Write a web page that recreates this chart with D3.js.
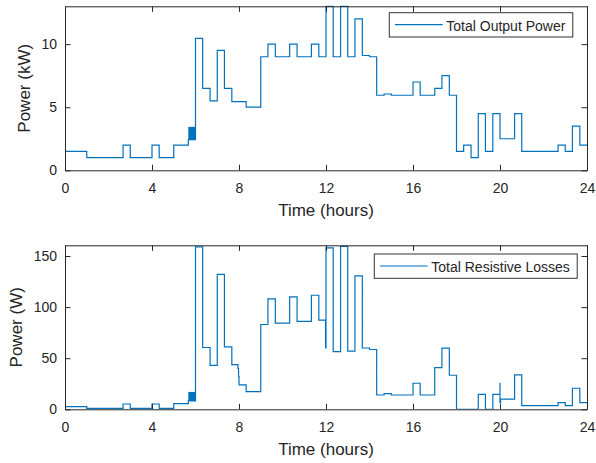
<!DOCTYPE html>
<html>
<head>
<meta charset="utf-8">
<script src="https://cdn.jsdelivr.net/npm/d3@7"></script>
<style>
  body { margin: 0; background: #fff; }
  svg { display: block; font-family: "Liberation Sans", Arial, Helvetica, sans-serif; }
</style>
</head>
<body>
<svg id="chart" width="596" height="463"></svg>
<script>
// Hourly profile of total output power (kW), as [time in hours, value] steps
const outputPower = [
  [0, 0], [0, 1.5], [1.0, 1.0], [2.67, 2.0], [3.0, 1.0], [4.0, 2.0], [4.33, 1.0],
  [5.0, 2.0], [5.67, 2.43], [6.0, 10.45], [6.33, 6.5], [6.67, 5.5], [7.0, 9.5],
  [7.33, 6.5], [7.67, 5.45], [8.33, 5.0], [9.0, 9.0], [9.33, 10.0], [9.67, 9.0],
  [10.33, 10.0], [10.67, 9.0], [11.33, 10.0], [11.67, 9.0], [12.0, 13.0], [12.33, 9.0],
  [12.67, 13.0], [13.0, 9.0], [13.33, 12.0], [13.67, 9.1], [14.0, 9.0], [14.33, 5.95],
  [14.67, 6.05], [15.0, 5.95], [16.0, 7.0], [16.33, 5.95], [17.0, 6.5], [17.33, 7.5],
  [17.67, 5.95], [18.0, 1.5], [18.33, 2.0], [18.67, 1.0], [19.0, 4.5], [19.33, 1.5],
  [19.67, 4.5], [20.0, 2.5], [20.67, 4.5], [21.0, 1.5], [22.67, 2.0], [23.0, 1.5],
  [23.33, 3.5], [23.67, 2.0], [24.0, 2.0]
];
// Fast switching interval of the output power: [start, end, low, high]
const outputBand = [5.67, 6.0, 2.43, 3.44];

// Total resistive losses (W), as [time in hours, value] steps
const resistiveLosses = [
  [0, 0], [0, 2.6], [1.0, 1.0], [2.67, 5.2], [3.0, 1.0], [4.0, 5.2], [4.33, 1.0],
  [5.0, 5.5], [5.67, 8.2], [6.0, 159], [6.33, 60.5], [6.67, 43], [7.0, 132],
  [7.33, 61], [7.67, 43.8], [7.95, 40], [7.98, 32], [8.0, 24], [8.33, 17.3],
  [9.0, 83], [9.33, 108], [9.67, 84.3], [10.33, 110], [10.67, 86], [11.33, 111.6],
  [11.67, 87.2], [11.98, 60], [12.0, 158], [12.33, 56.5], [12.67, 159.4], [13.0, 57],
  [13.33, 130.5], [13.67, 60], [14.0, 58.5], [14.33, 14], [14.67, 15.4], [15.0, 14],
  [16.0, 25.5], [16.33, 14], [17.0, 40.8], [17.33, 59.8], [17.67, 33.3], [18.0, 0],
  [19.0, 14.7], [19.33, 0], [19.67, 14.7], [20.0, 26], [20.0, 6.5], [20.03, 10],
  [20.67, 33.6], [21.0, 3.6], [22.67, 6.5], [23.0, 3.6], [23.33, 20.6], [23.67, 6.5],
  [24.0, 6.5]
];
// Fast switching interval of the losses: [start, end, low, high]
const lossBand = [5.67, 6.0, 8.2, 17.0];

const timeTicks = [0, 4, 8, 12, 16, 20, 24];
const powerTicks = [0, 5, 10];
const lossTicks = [0, 50, 100, 150];

const LINE = "#0072BD";
const AXIS = "#262626";

const svg = d3.select("#chart");

function panel(cfg) {
  const { top, bottom, left, right, data, band, yMax, yTicks, yLabel, yLabelX, legend, legendX, id } = cfg;
  const x = d3.scaleLinear().domain([0, 24]).range([left, right]);
  const y = d3.scaleLinear().domain([0, yMax]).range([bottom, top]);

  svg.append("clipPath").attr("id", id)
    .append("rect")
    .attr("x", left).attr("y", top - 1)
    .attr("width", right - left).attr("height", bottom - top + 1);

  const g = svg.append("g");

  // rapid switching shows as a solid block
  g.append("rect")
    .attr("clip-path", `url(#${id})`)
    .attr("x", x(band[0])).attr("width", x(band[1]) - x(band[0]))
    .attr("y", y(band[3])).attr("height", y(band[2]) - y(band[3]))
    .attr("fill", LINE);

  const line = d3.line()
    .x(d => x(d[0])).y(d => y(d[1]))
    .curve(d3.curveStepAfter);

  g.append("path")
    .datum(data)
    .attr("clip-path", `url(#${id})`)
    .attr("d", line)
    .attr("fill", "none")
    .attr("stroke", LINE)
    .attr("stroke-width", 1.2)
    .attr("stroke-linejoin", "miter");

  const tick = 5.5;
  const axes = svg.append("g").attr("color", AXIS);

  axes.append("g").attr("transform", `translate(0,${bottom})`)
    .call(d3.axisBottom(x).tickValues(timeTicks).tickSizeInner(-tick).tickSizeOuter(0).tickPadding(12.5));
  axes.append("g").attr("transform", `translate(0,${top})`)
    .call(d3.axisTop(x).tickValues(timeTicks).tickSizeInner(-tick).tickSizeOuter(0).tickFormat(""));
  axes.append("g").attr("transform", `translate(${left},0)`)
    .call(d3.axisLeft(y).tickValues(yTicks).tickSizeInner(-tick).tickSizeOuter(0).tickPadding(8));
  axes.append("g").attr("transform", `translate(${right},0)`)
    .call(d3.axisRight(y).tickValues(yTicks).tickSizeInner(-tick).tickSizeOuter(0).tickFormat(""));

  axes.selectAll("text").attr("font-size", 14).attr("fill", AXIS)
    .attr("font-family", '"Liberation Sans", Arial, sans-serif');
  axes.selectAll("path.domain, line").attr("stroke", AXIS).attr("stroke-width", 1);

  // axis titles
  svg.append("text")
    .attr("x", (left + right) / 2).attr("y", bottom + 45.7)
    .attr("text-anchor", "middle").attr("font-size", 17).attr("fill", AXIS)
    .text("Time (hours)");
  svg.append("text")
    .attr("transform", `translate(${yLabelX},${(top + bottom) / 2}) rotate(-90)`)
    .attr("text-anchor", "middle").attr("font-size", 17).attr("fill", AXIS)
    .text(yLabel);

  // legend
  const lg = svg.append("g");
  const ly0 = top + cfg.legendDy;
  const box = lg.append("rect")
    .attr("x", legendX).attr("y", ly0).attr("height", 24.3)
    .attr("fill", "#fff").attr("stroke", "#333").attr("stroke-width", 1);
  lg.append("line")
    .attr("x1", legendX + 5.7).attr("x2", legendX + 53.4)
    .attr("y1", ly0 + 12).attr("y2", ly0 + 12)
    .attr("stroke", LINE).attr("stroke-width", 1.2);
  const lt = lg.append("text")
    .attr("x", legendX + 57).attr("y", ly0 + 18)
    .attr("font-size", 14).attr("fill", AXIS)
    .text(legend);
  const w = lt.node().getComputedTextLength();
  box.attr("width", 57 + w + 7.4);
}

panel({
  id: "clipTop", top: 6.3, bottom: 170.3, left: 65, right: 587,
  data: outputPower, band: outputBand, yMax: 13, yTicks: powerTicks,
  yLabel: "Power (kW)", yLabelX: 30, legend: "Total Output Power",
  legendX: 389.3, legendDy: 6.4
});

panel({
  id: "clipBottom", top: 245.3, bottom: 409.3, left: 65, right: 587,
  data: resistiveLosses, band: lossBand, yMax: 160.5, yTicks: lossTicks,
  yLabel: "Power (W)", yLabelX: 21.5, legend: "Total Resistive Losses",
  legendX: 374.3, legendDy: 8.7
});
</script>
</body>
</html>
